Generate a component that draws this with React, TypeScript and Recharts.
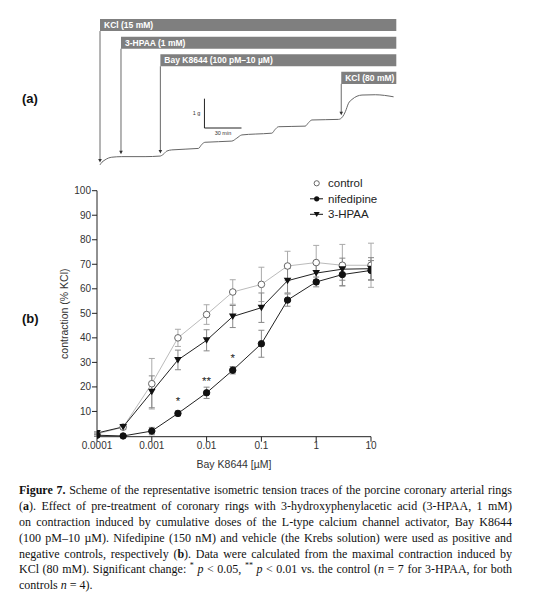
import React from 'react';
import {
  LineChart, Line, XAxis, YAxis, ErrorBar, Legend, LabelList,
  ReferenceArea, ReferenceLine,
} from 'recharts';

// (a) representative isometric tension trace (time in min, tension in g)
const traceTime = [8.1, 8.9, 12.2, 17.6, 25.7, 44.6, 56.8, 59.4, 62.2, 66.2, 87.8, 90.6, 93.2, 114.9, 118.9, 123.0, 133.8, 147.3, 150.0, 152.7, 174.3, 177.0, 179.8, 201.3, 204.6, 206.8, 209.4, 212.2, 220.3, 231.1, 245.9];
const traceTension = [0.38, 0.43, 0.55, 0.64, 0.66, 0.66, 0.68, 0.74, 0.85, 0.89, 0.94, 1.08, 1.15, 1.19, 1.29, 1.4, 1.43, 1.46, 1.59, 1.68, 1.7, 1.82, 1.91, 1.93, 2.02, 2.19, 2.48, 2.61, 2.76, 2.77, 2.7];
const doseLabels = ['KCl (15 mM)', '3-HPAA (1 mM)', 'Bay K8644 (100 pM\u201310 \u00b5M)', 'KCl (80 mM)'];
const doseTimes = [8.1, 25.1, 57.0, 203.5];
const recordEnd = 248.1;

// (b) concentration-response
const conc = [0.0001, 0.0003, 0.001, 0.003, 0.01, 0.03, 0.1, 0.3, 1, 3, 10];
const control = [0.8, 3.6, 21.3, 40, 49.5, 58.7, 61.8, 69.3, 70.7, 69.6, 69.6];
const controlErr = [0.5, 1, 10.3, 3.5, 4, 5, 7, 6, 7, 8.5, 9];
const nifedipine = [0.3, 0, 2, 9.2, 17.6, 26.8, 37.6, 55.4, 62.8, 65.8, 67.5];
const nifedipineErr = [0.5, 0.3, 1.5, 1, 2.3, 1.5, 5.5, 2.5, 2, 4.5, 4];
const hpaa = [1.2, 3.7, 18, 31, 39, 48.7, 52.3, 63.3, 66.4, 68, 68.2];
const hpaaErr = [0.5, 1, 6.5, 4, 4.3, 4.5, 6, 5, 4.5, 4.5, 4.5];
const sig = ['', '', '', '*', '**', '*', '', '', '', '', ''];
const xTicks = [0.0001, 0.001, 0.01, 0.1, 1, 10];
const yTicks = [10, 20, 30, 40, 50, 60, 70, 80, 90, 100];
const seriesNames = ['control', 'nifedipine', '3-HPAA'];

const traceRows = traceTime.map((t, i) => ({ t, g: traceTension[i] }));
const doseRows = conc.map((c, i) => ({
  conc: c,
  control: control[i], controlErr: controlErr[i],
  nifedipine: nifedipine[i], nifedipineErr: nifedipineErr[i],
  hpaa: hpaa[i], hpaaErr: hpaaErr[i],
  sig: sig[i],
}));

const tensionAt = (t: number) => {
  for (let i = 1; i < traceTime.length; i++) {
    if (traceTime[i] >= t) {
      const f = (t - traceTime[i - 1]) / (traceTime[i] - traceTime[i - 1]);
      return traceTension[i - 1] + f * (traceTension[i] - traceTension[i - 1]);
    }
  }
  return traceTension[traceTension.length - 1];
};

const sans = '"Liberation Sans", Arial, sans-serif';
const BAR_TOP = 5.35, BAR_H = 0.41, BAR_STEP = 0.6;

const arrowShape = (p: any) => {
  const { x1, y1, x2, y2 } = p;
  return (
    <g>
      <line x1={x1} y1={y1} x2={x2} y2={y2 - 2} stroke="#444" strokeWidth={0.8} />
      <path d={`M${x2 - 1.8},${y2 - 3.5} L${x2 + 1.8},${y2 - 3.5} L${x2},${y2} Z`} fill="#333" />
    </g>
  );
};

const openCircle = (p: any) => (
  <circle key={`c${p.index}`} cx={p.cx} cy={p.cy} r={3.3} fill="#fff" stroke="#666" strokeWidth={1} />
);
const filledCircle = (p: any) => (
  <circle key={`n${p.index}`} cx={p.cx} cy={p.cy} r={3.2} fill="#111" stroke="#111" />
);
const triangle = (p: any) => (
  <path key={`h${p.index}`} d={`M${p.cx - 3.8},${p.cy - 3} L${p.cx + 3.8},${p.cy - 3} L${p.cx},${p.cy + 3.5} Z`} fill="#111" />
);

const sigLabel = (p: any) => (
  <text x={p.x + p.width / 2} y={p.y - 8} textAnchor="middle" fontSize={11.5} fill="#222" fontFamily={sans}>
    {p.value}
  </text>
);

const LegendBox = () => (
  <svg width={100} height={48}>
    {seriesNames.map((name, i) => {
      const y = 8.3 + i * 15.5;
      return (
        <g key={name}>
          {i > 0 && <line x1={5} x2={18} y1={y} y2={y} stroke="#111" strokeWidth={1} />}
          {i === 0 && <circle cx={11.7} cy={y} r={2.6} fill="#fff" stroke="#666" />}
          {i === 1 && <circle cx={11.7} cy={y} r={2.6} fill="#111" />}
          {i === 2 && <path d={`M${8.7},${y - 2.4} L${14.7},${y - 2.4} L${11.7},${y + 2.8} Z`} fill="#111" />}
          <text x={23} y={y + 4} fontSize={11.5} fill="#222" fontFamily={sans}>{name}</text>
        </g>
      );
    })}
  </svg>
);

const captionLines = [
  <><b>Figure 7.</b> Scheme of the representative isometric tension traces of the porcine coronary arterial rings</>,
  <>(<b>a</b>). Effect of pre-treatment of coronary rings with 3-hydroxyphenylacetic acid (3-HPAA, 1 mM)</>,
  <>on contraction induced by cumulative doses of the L-type calcium channel activator, Bay K8644</>,
  <>(100 pM{'\u2013'}10 {'\u00b5'}M). Nifedipine (150 nM) and vehicle (the Krebs solution) were used as positive and</>,
  <>negative controls, respectively (<b>b</b>). Data were calculated from the maximal contraction induced by</>,
  <>KCl (80 mM). Significant change: <sup style={{ lineHeight: 0, fontSize: 8 }}>*</sup> <i>p</i> &lt; 0.05, <sup style={{ lineHeight: 0, fontSize: 8 }}>**</sup> <i>p</i> &lt; 0.01 vs. the control (<i>n</i> = 7 for 3-HPAA, for both</>,
  <>controls <i>n</i> = 4).</>,
];

export default function App() {
  return (
    <div style={{ position: 'absolute', left: 0, top: 0, width: 555, height: 601, background: '#fff', overflow: 'hidden', fontFamily: sans }}>
      <div style={{ position: 'absolute', left: 22, top: 91, fontSize: 13, fontWeight: 'bold', color: '#111' }}>(a)</div>
      <div style={{ position: 'absolute', left: 22, top: 311, fontSize: 13, fontWeight: 'bold', color: '#111' }}>(b)</div>

      <div style={{ position: 'absolute', left: 90, top: 0 }}>
        <LineChart width={321} height={176} data={traceRows} margin={{ top: 0, right: 0, bottom: 0, left: 0 }}>
          <XAxis dataKey="t" type="number" domain={[0, 260]} hide />
          <YAxis type="number" domain={[0, 6]} hide />
          {doseLabels.map((label, i) => (
            <ReferenceArea
              key={label}
              x1={doseTimes[i]} x2={recordEnd}
              y1={BAR_TOP - i * BAR_STEP - BAR_H} y2={BAR_TOP - i * BAR_STEP}
              fill="#7f7f7f" fillOpacity={1} stroke="none"
              label={{ value: label, position: 'insideLeft', offset: 4, fill: '#fff', fontSize: 8.5, fontWeight: 'bold', fontFamily: sans }}
            />
          ))}
          {doseTimes.map((t, i) => (
            <ReferenceLine
              key={`arr${i}`}
              segment={[{ x: t, y: BAR_TOP - i * BAR_STEP - BAR_H }, { x: t, y: tensionAt(t) + 0.08 }]}
              shape={arrowShape}
            />
          ))}
          <ReferenceLine
            segment={[{ x: 92.7, y: 1.636 }, { x: 92.7, y: 2.636 }]}
            stroke="#222" strokeWidth={1}
            label={{ value: '1 g', position: 'left', offset: 4, fontSize: 5.5, fill: '#333', fontFamily: sans }}
          />
          <ReferenceLine
            segment={[{ x: 92.7, y: 1.636 }, { x: 122.7, y: 1.636 }]}
            stroke="#222" strokeWidth={1}
            label={{ value: '30 min', position: 'bottom', offset: 3, fontSize: 5.5, fill: '#333', fontFamily: sans }}
          />
          <Line dataKey="g" type="monotone" stroke="#666" strokeWidth={1} dot={false} isAnimationActive={false} />
        </LineChart>
      </div>

      <div style={{ position: 'absolute', left: 0, top: 170 }}>
        <LineChart width={555} height={310} data={doseRows} margin={{ top: 20.7, right: 184, bottom: 13.3, left: 57 }}>
          <XAxis
            dataKey="conc" type="number" scale="log" domain={[0.0001, 10]} ticks={xTicks}
            allowDataOverflow tickFormatter={(v) => String(v)}
            tick={{ fontSize: 10, fill: '#333', fontFamily: sans }} tickSize={5} tickMargin={0}
            stroke="#222" height={30}
            label={{ value: 'Bay K8644 [\u00b5M]', position: 'insideBottom', offset: -1, fontSize: 10.5, fill: '#333', fontFamily: sans }}
          />
          <YAxis
            type="number" domain={[0, 100]} ticks={yTicks} width={40}
            tick={{ fontSize: 10, fill: '#333', fontFamily: sans }} tickSize={5} tickMargin={1}
            stroke="#222"
            label={{ value: 'contraction (% KCl)', angle: -90, position: 'insideLeft', offset: 7, fontSize: 10.5, fill: '#333', fontFamily: sans, style: { textAnchor: 'middle' } }}
          />
          <Legend
            layout="vertical" align="center" verticalAlign="middle"
            wrapperStyle={{ left: 305, top: 5, width: 100, height: 48 }}
            content={() => <LegendBox />}
          />
          <Line name="control" dataKey="control" stroke="#bbb" strokeWidth={1} dot={openCircle} isAnimationActive={false}>
            <ErrorBar dataKey="controlErr" direction="y" width={3} stroke="#aaa" strokeWidth={1} />
          </Line>
          <Line name="3-HPAA" dataKey="hpaa" stroke="#222" strokeWidth={1} dot={triangle} isAnimationActive={false}>
            <ErrorBar dataKey="hpaaErr" direction="y" width={3} stroke="#888" strokeWidth={1} />
          </Line>
          <Line name="nifedipine" dataKey="nifedipine" stroke="#222" strokeWidth={1} dot={filledCircle} isAnimationActive={false}>
            <ErrorBar dataKey="nifedipineErr" direction="y" width={3} stroke="#888" strokeWidth={1} />
            <LabelList dataKey="sig" content={sigLabel} />
          </Line>
        </LineChart>
      </div>

      <div style={{ position: 'absolute', left: 19, top: 483, width: 493, fontFamily: '"Liberation Serif", "Times New Roman", serif', fontSize: 12, lineHeight: '15.9px', color: '#111' }}>
        {captionLines.map((line, i) => (
          <div key={i} style={{ textAlign: 'justify', textAlignLast: i < captionLines.length - 1 ? 'justify' : 'left', height: 15.9 }}>
            {line}
          </div>
        ))}
      </div>
    </div>
  );
}
